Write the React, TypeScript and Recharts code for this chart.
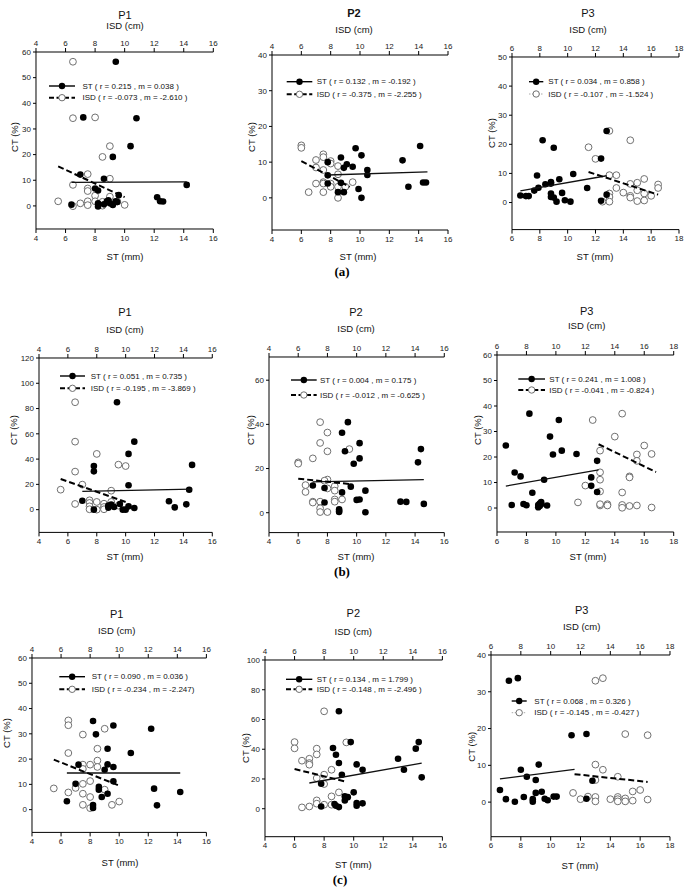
import React from 'react';
import { ScatterChart, Scatter, XAxis, YAxis } from 'recharts';

type Pt = [number, number];

const FONT = "'Liberation Sans', Arial, sans-serif";

// tick labels
const xTicksLow = [4, 6, 8, 10, 12, 14, 16];
const xTicksHigh = [6, 8, 10, 12, 14, 16, 18];
const yTicks40 = [0, 10, 20, 30, 40];
const yTicks50 = [0, 10, 20, 30, 40, 50];
const yTicks60 = [0, 10, 20, 30, 40, 50, 60];
const yTicks60b = [0, 20, 40, 60];
const yTicks100 = [0, 20, 40, 60, 80, 100];
const yTicks120 = [0, 20, 40, 60, 80, 100, 120];

// ---------- (a) ----------
const a1ST: Pt[] = [[9.4,56.2],[7.2,34.5],[10.8,34.2],[10.4,23.3],[9.2,19.1],[7.0,12.2],[8.6,10.6],[8.0,6.8],[8.2,6.0],[9.6,4.2],[14.2,8.2],[12.2,3.4],[12.4,1.8],[12.6,1.7],[6.4,0.5],[8.2,1.0],[8.2,-0.2],[8.8,1.8],[8.9,2.2],[9.0,1.0],[9.2,0.4],[9.4,1.8],[9.5,1.5],[8.6,0.6]];
const a1ISD: Pt[] = [[6.5,56.2],[6.5,34.2],[8.0,34.5],[9.0,23.3],[8.5,19.1],[7.5,12.4],[9.0,10.6],[6.5,8.2],[7.5,6.8],[7.5,5.8],[8.0,4.0],[5.5,1.8],[7.0,1.0],[6.5,-0.1],[7.5,1.8],[7.5,0.3],[8.0,1.8],[8.5,1.6],[8.5,0.1],[9.0,2.3],[9.0,3.6],[9.5,1.7],[10.0,0.4]];
const a1STLine: Pt[] = [[6.4,9.2],[14.2,9.4]];
const a1ISDLine: Pt[] = [[5.5,15.4],[10.0,3.4]];

const a2ST: Pt[] = [[7.8,10.0],[8.7,11.3],[9.1,9.4],[8.9,8.4],[9.7,13.9],[10.1,11.9],[9.5,8.7],[10.5,7.8],[10.5,6.4],[7.8,6.3],[7.8,4.0],[8.7,4.2],[8.5,1.6],[8.9,1.6],[9.9,2.5],[10.1,0],[12.9,10.5],[13.3,3.1],[14.1,14.5],[14.3,4.3],[14.5,4.3]];
const a2ISD: Pt[] = [[6.0,14.7],[6.0,14.0],[7.0,10.6],[7.5,12.2],[7.5,11.4],[7.0,8.5],[7.5,7.8],[8.0,10.3],[8.0,9.6],[8.5,8.9],[8.5,6.6],[7.0,4.0],[7.5,4.4],[7.5,4.0],[8.0,4.0],[8.0,3.1],[8.5,3.1],[9.0,3.1],[9.5,4.4],[6.5,1.6],[7.5,1.6],[8.5,0]];
const a2STLine: Pt[] = [[7.8,6.4],[14.6,7.3]];
const a2ISDLine: Pt[] = [[6.0,10.3],[9.3,3.1]];

const a3ST: Pt[] = [[6.6,2.4],[7.0,2.2],[7.2,2.2],[7.6,4.1],[7.8,9.3],[7.9,5.1],[8.2,21.4],[8.4,6.3],[8.8,6.5],[8.8,7.0],[9.0,18.8],[9.4,8.0],[9.6,3.3],[10.4,9.8],[8.8,3.1],[8.8,1.9],[9.0,1.7],[9.2,0.3],[9.8,0.8],[10.2,0.3],[11.4,5.0],[12.4,0.6],[12.4,15.1],[12.8,24.6],[12.8,2.7]];
const a3ISD: Pt[] = [[11.5,19.0],[12.0,15.0],[13.0,24.6],[14.5,21.4],[13.0,9.4],[13.5,9.4],[13.5,5.0],[13.0,3.1],[13.0,1.9],[13.0,0.3],[12.5,0.3],[14.0,3.4],[14.5,6.4],[14.5,2.3],[14.5,1.7],[15.0,6.8],[15.0,4.2],[15.0,0.5],[15.5,8.1],[15.5,3.1],[15.5,0.7],[16.0,2.3],[16.5,6.2],[16.5,5.0]];
const a3STLine: Pt[] = [[6.6,4.0],[12.8,9.2]];
const a3ISDLine: Pt[] = [[11.5,10.5],[16.5,2.7]];

// ---------- (b) ----------
const b1ST: Pt[] = [[9.4,85],[10.6,53.8],[10.2,44.1],[7.8,34.5],[7.8,30.3],[7.0,7.0],[7.8,0],[8.8,1.6],[8.8,3.2],[9.0,4.0],[9.2,2.1],[9.6,4.5],[9.8,0],[10.0,0],[10.2,2.6],[10.2,19.3],[10.6,1.3],[13.0,6.6],[13.4,1.8],[14.2,4.2],[14.4,15.8],[14.6,35.4]];
const b1ISD: Pt[] = [[6.5,85],[6.5,53.8],[6.5,30.1],[8.0,44.1],[9.5,35.6],[10.0,34.5],[7.0,19.8],[5.5,15.8],[9.0,15.0],[6.5,4.5],[7.5,7.4],[7.5,5.3],[7.5,2.6],[7.5,0.3],[8.0,6.1],[8.0,0],[8.5,4.7],[8.5,2.1],[9.0,6.1],[9.5,3.2],[8.5,0.3]];
const b1STLine: Pt[] = [[7.0,14.5],[14.6,16.3]];
const b1ISDLine: Pt[] = [[5.5,24.3],[10.0,6.1]];

const b2ST: Pt[] = [[9.0,36.2],[9.4,41],[9.2,27.8],[9.8,22.2],[10.2,31.5],[10.2,24.6],[7.0,12.3],[7.8,11.2],[7.8,4.6],[8.8,1.5],[8.8,0.3],[8.8,0.8],[9.0,9.2],[9.6,11.8],[10.0,5.8],[10.2,6.0],[10.6,10.0],[10.6,0.2],[13.0,5.0],[13.4,4.9],[14.2,22.8],[14.4,28.8],[14.6,4.0]];
const b2ISD: Pt[] = [[6.0,22.8],[6.0,22.2],[6.5,12.5],[6.5,9.4],[7.0,24.6],[7.0,5.0],[7.0,4.6],[7.5,41],[7.5,31.6],[7.5,5.0],[7.5,2.0],[7.5,0.3],[8.0,36.3],[8.0,27.8],[8.0,15.0],[8.0,11.0],[8.0,0.3],[8.5,12.0],[8.5,10.0],[8.5,6.0],[8.5,5.0],[9.0,6.0],[9.5,28.8],[7.8,14.5]];
const b2STLine: Pt[] = [[7.0,14.0],[14.6,15.0]];
const b2ISDLine: Pt[] = [[6.0,15.4],[9.5,13.0]];

const b3ST: Pt[] = [[6.6,24.5],[7.0,1.2],[7.2,13.9],[7.6,12.4],[7.8,1.6],[8.0,1.1],[8.2,37],[8.4,6.0],[8.8,0.3],[8.8,1.2],[8.9,1.8],[9.0,2.3],[9.0,1.5],[8.9,0.8],[9.2,11.1],[9.4,1.0],[9.6,28],[9.8,21],[10.2,34.5],[10.4,22.5],[11.4,21.2],[12.4,12],[12.4,8.7],[12.8,18.5],[12.8,6.3]];
const b3ISD: Pt[] = [[12.5,34.5],[14.5,37],[14.0,28],[13.0,22.5],[13.0,14],[13.0,11.1],[13.0,6.5],[13.0,1.0],[12.0,8.8],[11.5,2.2],[13.0,1.5],[13.5,1.5],[13.5,1.0],[14.5,6.1],[14.5,1.2],[14.5,0.1],[15.0,12.4],[15.0,12.0],[15.5,21],[15.5,18.5],[15.5,1.0],[15.0,0.8],[16.0,24.5],[16.5,21.2],[16.5,0.2]];
const b3STLine: Pt[] = [[6.6,8.6],[12.9,15.0]];
const b3ISDLine: Pt[] = [[12.9,25.0],[16.8,14.1]];

// ---------- (c) ----------
const c1ST: Pt[] = [[8.2,35.1],[9.6,33.3],[8.4,29.8],[12.2,32.0],[9.2,24.1],[10.8,22.4],[7.2,17.8],[9.2,17.9],[9.6,16.9],[9.0,15.8],[9.6,11.2],[7.0,10.2],[8.6,9.0],[8.6,7.9],[9.2,6.3],[8.8,5.0],[12.4,8.3],[14.2,7.0],[6.4,3.3],[8.2,1.8],[8.2,0.7],[12.6,1.7]];
const c1ISD: Pt[] = [[6.5,35.3],[6.5,33.4],[7.5,29.7],[9.0,32.0],[8.5,24.1],[6.5,22.4],[8.5,19.4],[8.5,16.9],[7.5,17.8],[8.0,17.8],[7.5,16.1],[5.5,8.4],[6.5,6.8],[7.0,8.6],[7.5,10.2],[8.0,11.3],[7.5,6.3],[8.0,5.0],[9.0,7.9],[7.5,1.9],[8.0,0.6],[9.5,1.9],[10.0,3.2]];
const c1STLine: Pt[] = [[6.4,14.5],[14.2,14.5]];
const c1ISDLine: Pt[] = [[5.5,19.8],[10.0,9.5]];

const c2ST: Pt[] = [[9.0,65.5],[9.8,44.8],[8.6,40.8],[8.8,36.3],[9.0,30.7],[9.2,22.8],[10.2,29.8],[10.6,26.2],[13.0,33.6],[13.4,26.2],[14.2,40.4],[14.4,44.8],[14.6,21.1],[7.8,16.8],[7.8,1.5],[8.7,3.1],[8.8,2.0],[9.0,1.1],[9.4,8.3],[9.6,7.8],[10.0,11.0],[10.2,3.8],[10.2,2.0],[10.6,3.6],[9.4,5.6]];
const c2ISD: Pt[] = [[8.0,65.5],[9.5,44.6],[6.0,44.8],[6.0,40.6],[7.5,40.4],[7.5,36.5],[6.5,32.3],[7.0,33.6],[7.0,30.7],[7.0,29.6],[8.5,26.2],[8.0,22.9],[7.5,20.6],[8.0,16.6],[7.5,5.6],[7.5,3.4],[8.0,2.7],[6.5,0.9],[7.0,1.5],[8.5,8.3],[8.5,2.7],[9.0,11.0]];
const c2STLine: Pt[] = [[7.0,17.3],[14.6,30.7]];
const c2ISDLine: Pt[] = [[6.0,26.7],[9.4,18.4]];

const c3ST: Pt[] = [[7.2,33.0],[7.8,33.7],[11.4,18.2],[12.4,18.5],[8.0,8.8],[8.4,6.9],[9.0,6.0],[9.2,10.2],[6.6,3.3],[7.0,0.8],[7.6,0.1],[8.2,1.4],[8.8,0.8],[8.8,0.1],[9.0,2.5],[9.4,2.8],[9.6,0.9],[9.8,0.5],[10.2,1.5],[10.4,1.5],[12.8,5.8],[12.4,0.9]];
const c3ISD: Pt[] = [[13.0,33.0],[13.5,33.7],[15.0,18.5],[16.5,18.2],[13.0,10.2],[13.5,8.8],[14.5,6.9],[13.0,6.0],[11.5,2.5],[12.0,0.8],[12.5,1.5],[13.0,1.4],[13.0,0.2],[14.0,0.8],[14.5,1.4],[14.5,0.8],[14.5,0.2],[15.0,1.0],[15.0,0.2],[15.5,2.9],[15.5,0.4],[16.0,3.3],[16.5,0.7]];
const c3STLine: Pt[] = [[6.6,6.3],[11.6,8.9]];
const c3ISDLine: Pt[] = [[11.6,7.6],[16.5,5.5]];

type Panel = {
  left: number; right: number; top: number; bottom: number;
  xDomain: [number, number]; xTicks: number[];
  yDomain: [number, number]; yTicks: number[];
  st: Pt[]; isd: Pt[]; stLine: Pt[]; isdLine: Pt[];
  title: string; bold?: boolean; tx: number; ty: number; iy: number;
  sx: number; sy: number; cx: number; cy: number;
  lx1: number; lx2: number; ltx: number; ly1: number; ly2: number;
  stLabel: string; isdLabel: string; dotted?: boolean;
};

const panels: Panel[] = [
  { left: 36, right: 213.3, top: 52.3, bottom: 229.3, xDomain: [4, 16], xTicks: xTicksLow, yDomain: [-9, 60], yTicks: yTicks60,
    st: a1ST, isd: a1ISD, stLine: a1STLine, isdLine: a1ISDLine, title: 'P1', tx: 125, ty: 15, iy: 25, sx: 125, sy: 256, cx: 14, cy: 137,
    lx1: 49, lx2: 75, ltx: 82.5, ly1: 86, ly2: 97.7, stLabel: 'ST ( r = 0.215 , m = 0.038 )', isdLabel: 'ISD ( r = -0.073 , m = -2.610 )' },
  { left: 271.7, right: 447.7, top: 55, bottom: 230, xDomain: [4, 16], xTicks: xTicksLow, yDomain: [-9, 40], yTicks: yTicks40,
    st: a2ST, isd: a2ISD, stLine: a2STLine, isdLine: a2ISDLine, title: 'P2', bold: true, tx: 354, ty: 13, iy: 29, sx: 358, sy: 256, cx: 251.5, cy: 137,
    lx1: 286.7, lx2: 312.3, ltx: 316.7, ly1: 81.7, ly2: 94.3, stLabel: 'ST ( r = 0.132 , m = -0.192 )', isdLabel: 'ISD ( r = -0.375 , m = -2.255 )' },
  { left: 512.3, right: 679.3, top: 56.7, bottom: 229.3, xDomain: [6, 18], xTicks: xTicksHigh, yDomain: [-9.3, 50], yTicks: yTicks50,
    st: a3ST, isd: a3ISD, stLine: a3STLine, isdLine: a3ISDLine, title: 'P3', tx: 588, ty: 13, iy: 29, sx: 595, sy: 256, cx: 491.5, cy: 133,
    lx1: 529, lx2: 543.3, ltx: 548.3, ly1: 81.7, ly2: 94, stLabel: 'ST ( r = 0.034 , m = 0.858 )', isdLabel: 'ISD ( r = -0.107 , m = -1.524 )', dotted: true },

  { left: 39, right: 212.3, top: 358.3, bottom: 532.7, xDomain: [4, 16], xTicks: xTicksLow, yDomain: [-18, 120], yTicks: yTicks120,
    st: b1ST, isd: b1ISD, stLine: b1STLine, isdLine: b1ISDLine, title: 'P1', tx: 125, ty: 311.7, iy: 329.3, sx: 125, sy: 556, cx: 13, cy: 430,
    lx1: 60, lx2: 85, ltx: 90.7, ly1: 376, ly2: 388.3, stLabel: 'ST ( r = 0.051 , m = 0.735 )', isdLabel: 'ISD ( r = -0.195 , m = -3.869 )' },
  { left: 268.7, right: 444, top: 356.7, bottom: 532.3, xDomain: [4, 16], xTicks: xTicksLow, yDomain: [-9, 70.5], yTicks: yTicks60b,
    st: b2ST, isd: b2ISD, stLine: b2STLine, isdLine: b2ISDLine, title: 'P2', tx: 356, ty: 311.7, iy: 328.3, sx: 356, sy: 556, cx: 250, cy: 430,
    lx1: 291, lx2: 316.7, ltx: 320, ly1: 380, ly2: 395, stLabel: 'ST ( r = 0.004 , m = 0.175 )', isdLabel: 'ISD ( r = -0.012 , m = -0.625 )' },
  { left: 497.3, right: 674, top: 355.3, bottom: 532.3, xDomain: [6, 18], xTicks: xTicksHigh, yDomain: [-9.4, 60], yTicks: yTicks60,
    st: b3ST, isd: b3ISD, stLine: b3STLine, isdLine: b3ISDLine, title: 'P3', tx: 586.7, ty: 310.7, iy: 325, sx: 588, sy: 556, cx: 477.5, cy: 430,
    lx1: 518.3, lx2: 545, ltx: 549.3, ly1: 379, ly2: 390, stLabel: 'ST ( r = 0.241 , m = 1.008 )', isdLabel: 'ISD ( r = -0.041 , m = -0.824 )' },

  { left: 32.3, right: 206.7, top: 658.3, bottom: 832.7, xDomain: [4, 16], xTicks: xTicksLow, yDomain: [-9, 60], yTicks: yTicks60,
    st: c1ST, isd: c1ISD, stLine: c1STLine, isdLine: c1ISDLine, title: 'P1', tx: 116.7, ty: 614, iy: 630, sx: 120, sy: 862, cx: 6, cy: 733,
    lx1: 59.3, lx2: 85, ltx: 91.7, ly1: 676.7, ly2: 689.3, stLabel: 'ST ( r = 0.090 , m = 0.036 )', isdLabel: 'ISD ( r = -0.234 , m = -2.247)' },
  { left: 265.3, right: 442.7, top: 660.3, bottom: 837, xDomain: [4, 16], xTicks: xTicksLow, yDomain: [-18.8, 100], yTicks: yTicks100,
    st: c2ST, isd: c2ISD, stLine: c2STLine, isdLine: c2ISDLine, title: 'P2', tx: 353.3, ty: 613.3, iy: 631.7, sx: 353.3, sy: 864.5, cx: 245.5, cy: 748,
    lx1: 286, lx2: 312.3, ltx: 316.7, ly1: 679.3, ly2: 689.3, stLabel: 'ST ( r = 0.134 , m = 1.799 )', isdLabel: 'ISD ( r = -0.148 , m = -2.496 )' },
  { left: 491, right: 670, top: 655, bottom: 836.7, xDomain: [6, 18], xTicks: xTicksHigh, yDomain: [-9.4, 40], yTicks: yTicks40,
    st: c3ST, isd: c3ISD, stLine: c3STLine, isdLine: c3ISDLine, title: 'P3', tx: 581.7, ty: 610, iy: 626.7, sx: 580, sy: 865.5, cx: 472, cy: 746.7,
    lx1: 511.7, lx2: 526.7, ltx: 534.3, ly1: 701, ly2: 712.7, stLabel: 'ST ( r = 0.068 , m = 0.326 )', isdLabel: 'ISD ( r = -0.145 , m = -0.427 )', dotted: true },
];

const rowLabels = [
  { text: '(a)', x: 342, y: 271 },
  { text: '(b)', x: 342, y: 571 },
  { text: '(c)', x: 340, y: 879 },
];

const toObj = (pts: Pt[]) => pts.map(([x, y]) => ({ x, y }));

const filledDot = (p: any) => <circle cx={p.cx} cy={p.cy} r={3.3} fill="#000" />;
const openDot = (p: any) => <circle cx={p.cx} cy={p.cy} r={3.4} fill="#fff" stroke="#6f6f6f" strokeWidth={1} />;
const noDot = () => <g />;

const tickStyle = { fontSize: 8, fill: '#222', fontFamily: FONT };

const YW = 32;
const XT = 22;
const XB = 22;
const RM = 12;

function PanelChart({ p }: { p: Panel }) {
  const W = p.right - p.left + YW + RM;
  const H = p.bottom - p.top + XT + XB;
  return (
    <div style={{ position: 'absolute', left: p.left - YW, top: p.top - XT, width: W, height: H }}>
      <ScatterChart width={W} height={H} margin={{ top: 0, right: RM, bottom: 0, left: 0 }}>
        <XAxis xAxisId="st" orientation="bottom" type="number" dataKey="x" domain={p.xDomain} ticks={p.xTicks}
          allowDataOverflow interval={0} height={XB} tickSize={4} tickMargin={2} stroke="#000" tick={tickStyle} />
        <XAxis xAxisId="isd" orientation="top" type="number" dataKey="x" domain={p.xDomain} ticks={p.xTicks}
          allowDataOverflow interval={0} height={XT} tickSize={4} tickMargin={2} stroke="#000" tick={tickStyle} />
        <YAxis yAxisId="ct" type="number" dataKey="y" domain={p.yDomain} ticks={p.yTicks}
          allowDataOverflow interval={0} width={YW} tickSize={3} tickMargin={2} stroke="#000" tick={tickStyle} />
        <Scatter xAxisId="isd" yAxisId="ct" data={toObj(p.isd)} shape={openDot} isAnimationActive={false} />
        <Scatter xAxisId="st" yAxisId="ct" data={toObj(p.st)} shape={filledDot} isAnimationActive={false} />
        <Scatter xAxisId="st" yAxisId="ct" data={toObj(p.stLine)} shape={noDot} isAnimationActive={false}
          line={{ stroke: '#111', strokeWidth: 1.3 }} />
        <Scatter xAxisId="isd" yAxisId="ct" data={toObj(p.isdLine)} shape={noDot} isAnimationActive={false}
          line={{ stroke: '#000', strokeWidth: 2, strokeDasharray: '6 3' }} />
      </ScatterChart>
    </div>
  );
}

function Overlay() {
  return (
    <svg width={685} height={891} style={{ position: 'absolute', left: 0, top: 0, pointerEvents: 'none' }}>
      {panels.map((p, i) => {
        const mid = (p.lx1 + p.lx2) / 2;
        return (
          <g key={i} fontFamily={FONT} fill="#111">
            <text x={p.tx} y={p.ty} fontSize={11} fontWeight={p.bold ? 'bold' : 'normal'} textAnchor="middle" dominantBaseline="central">{p.title}</text>
            <text x={p.tx} y={p.iy} fontSize={9.5} textAnchor="middle" dominantBaseline="central">ISD (cm)</text>
            <text x={p.sx} y={p.sy} fontSize={9.5} textAnchor="middle" dominantBaseline="central">ST (mm)</text>
            <text x={p.cx} y={p.cy} fontSize={9.5} textAnchor="middle" dominantBaseline="central" transform={`rotate(-90 ${p.cx} ${p.cy})`}>CT (%)</text>
            <line x1={p.lx1} x2={p.lx2} y1={p.ly1} y2={p.ly1} stroke="#000" strokeWidth={1.4} />
            <circle cx={mid} cy={p.ly1} r={3.2} fill="#000" />
            {p.dotted ? (
              <line x1={p.lx1} x2={p.lx2} y1={p.ly2} y2={p.ly2} stroke="#aaa" strokeWidth={1} strokeDasharray="1.5 1.5" />
            ) : (
              <line x1={p.lx1} x2={p.lx2} y1={p.ly2} y2={p.ly2} stroke="#000" strokeWidth={2} strokeDasharray="5 2.5" />
            )}
            <circle cx={mid} cy={p.ly2} r={3.2} fill="#fff" stroke="#6f6f6f" strokeWidth={1} />
            <text x={p.ltx} y={p.ly1} fontSize={8} dominantBaseline="central">{p.stLabel}</text>
            <text x={p.ltx} y={p.ly2} fontSize={8} dominantBaseline="central">{p.isdLabel}</text>
          </g>
        );
      })}
      {rowLabels.map((r, i) => (
        <text key={i} x={r.x} y={r.y} fontSize={13} fontWeight="bold" fontFamily="'Liberation Serif', 'Times New Roman', serif"
          textAnchor="middle" dominantBaseline="central" fill="#000">{r.text}</text>
      ))}
    </svg>
  );
}

export default function App() {
  return (
    <div style={{ position: 'absolute', left: 0, top: 0, width: 685, height: 891, background: '#fff', overflow: 'hidden' }}>
      {panels.map((p, i) => <PanelChart key={i} p={p} />)}
      <Overlay />
    </div>
  );
}
